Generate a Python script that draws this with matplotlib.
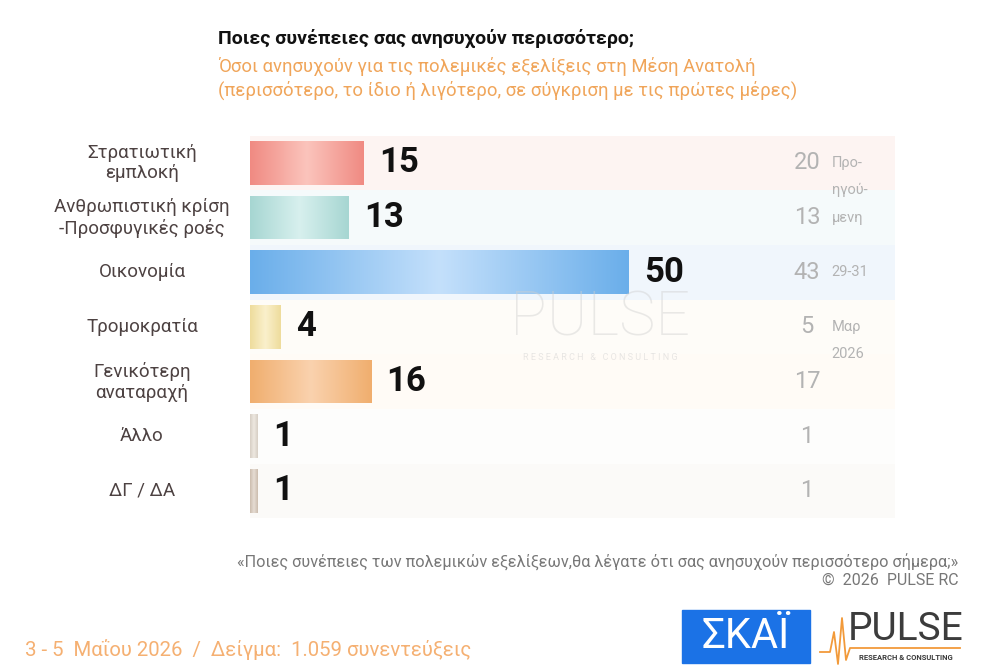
import numpy as np
import matplotlib
matplotlib.use("Agg")
import matplotlib.pyplot as plt
from matplotlib.colors import LinearSegmentedColormap
from matplotlib.patches import Rectangle
from matplotlib.lines import Line2D

plt.rcParams['font.family'] = ['Roboto', 'DejaVu Sans']

# δεδομένα
categories = ["Στρατιωτική\nεμπλοκή", "Ανθρωπιστική κρίση\n-Προσφυγικές ροές", "Οικονομία",
              "Τρομοκρατία", "Γενικότερη\nαναταραχή", "Άλλο", "ΔΓ / ΔΑ"]
values = [15, 13, 50, 4, 16, 1, 1]
previous = [20, 13, 43, 5, 17, 1, 1]
prev_note = ["Προ-", "ηγού-", "μενη", "29-31", "Μαρ", "2026"]
prev_note_rows = [0, 0.5, 1, 2, 3, 3.5]

# χρώματα (άκρη, κέντρο, φόντο γραμμής)
edge_cols = ["#f08a82", "#a6d6d2", "#6aaeea", "#eedc9c", "#f0ae6e", "#d6cec4", "#cbbcae"]
mid_cols = ["#fbc4bc", "#d8f0ee", "#c4e0fb", "#faf0cc", "#fad2ae", "#eee8e0", "#e6ddd4"]
band_cols = ["#fdf4f2", "#f5fafb", "#f0f6fc", "#fefcf8", "#fffbf6", "#fdfdfc", "#fbfaf8"]

fig = plt.figure(figsize=(9.82, 6.68), dpi=100)
ax = fig.add_axes([250/982, 1-518.3/668, 645/982, 382.7/668])

y = np.arange(len(categories))
xmax = 645/7.58

# φόντο γραμμών
ax.barh(y, [xmax]*len(y), height=1.0, color=band_cols, zorder=0)

bars = ax.barh(y, values, height=0.8, color=edge_cols, zorder=2)
grad = np.linspace(0, 1, 256).reshape(1, -1)
for b, c1, c2 in zip(bars, edge_cols, mid_cols):
    cmap = LinearSegmentedColormap.from_list("g", [c1, c2, c1])
    x0, y0, w, h = b.get_x(), b.get_y(), b.get_width(), b.get_height()
    im = ax.imshow(grad, cmap=cmap, extent=[x0, x0+w, y0+h, y0], aspect='auto', zorder=3)
    im.set_clip_path(b)

for i, v in enumerate(values):
    ax.annotate(str(v), (v, i), xytext=(11, 0), textcoords="offset points",
                ha="left", va="center", fontsize=25, fontweight="bold", color="#111111", zorder=5)

tr = ax.get_yaxis_transform()
for i, p in enumerate(previous):
    ax.text(0.8636, i, str(p), transform=tr, ha="center", va="center", fontsize=17, color="#b3b3b3")
for r, t in zip(prev_note_rows, prev_note):
    ax.text(0.902, r, t, transform=tr, ha="left", va="center", fontsize=10.5, color="#b3b3b3")

ax.set_xlim(0, xmax)
ax.set_ylim(len(y)-0.5, -0.5)
ax.axis("off")

for i, c in enumerate(categories):
    ax.text(-108/7.58, i, c, ha="center", va="center", fontsize=13.5, color="#4d4242",
            linespacing=1.2)

# υδατογράφημα
fig.text(600/982, 1-318/668, "PULSE", ha="center", va="center", fontsize=44, color="#d0d0d0",
         alpha=0.45, fontweight="light")
fig.text(600/982, 1-358/668, "R E S E A R C H   &   C O N S U L T I N G", ha="center", va="center",
         fontsize=6.5, color="#d0d0d0", alpha=0.5)

# τίτλοι
fig.text(218/982, 1-38/668, "Ποιες συνέπειες σας ανησυχούν περισσότερο;", fontsize=14,
         fontweight="bold", color="#111111", va="center")
fig.text(218/982, 1-67/668, "Όσοι ανησυχούν για τις πολεμικές εξελίξεις στη Μέση Ανατολή",
         fontsize=13.3, color="#f0a55a", va="center")
fig.text(218/982, 1-90/668, "(περισσότερο, το ίδιο ή λιγότερο, σε σύγκριση με τις πρώτες μέρες)",
         fontsize=13.3, color="#f0a55a", va="center")

# υποσημειώσεις
fig.text(958/982, 1-562/668,
         "«Ποιες συνέπειες των πολεμικών εξελίξεων,θα λέγατε ότι σας ανησυχούν περισσότερο σήμερα;»",
         fontsize=11.7, color="#777777", ha="right", va="center")
fig.text(958/982, 1-580/668, "©  2026  PULSE RC", fontsize=11.5, color="#777777", ha="right", va="center")
fig.text(25/982, 1-650/668, "3 - 5  Μαΐου 2026  /  Δείγμα:  1.059 συνεντεύξεις",
         fontsize=14.7, color="#f5b072", ha="left", va="center")

# λογότυπα
fig.add_artist(Rectangle((682/982, 1-663/668), 128/982, 53/668, transform=fig.transFigure,
                         color="#1b72e6", zorder=1))
fig.text(746/982, 1-637/668, "ΣΚΑΪ", fontsize=30, color="white", ha="center", va="center", zorder=2)
fig.text(906/982, 1-630/668, "PULSE", fontsize=28, color="#3c3c3c", ha="center", va="center")
fig.text(906/982, 1-658/668, "RESEARCH & CONSULTING", fontsize=5.5, fontweight="bold",
         color="#3c3c3c", ha="center", va="center")
px = np.array([820, 830, 834, 838, 842, 846, 850, 960]) / 982
py = 1 - np.array([652, 652, 632, 664, 618, 660, 648, 648]) / 668
fig.add_artist(Line2D(px, py, transform=fig.transFigure, color="#f29a3a", lw=1.3))

fig.savefig("out.png", dpi=100, facecolor="white")
